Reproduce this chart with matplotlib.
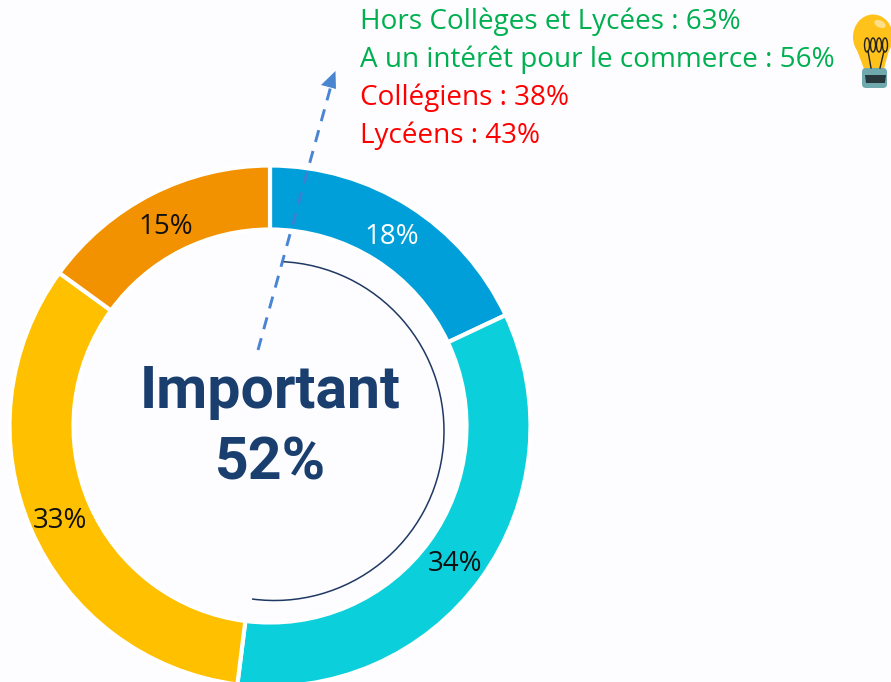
import matplotlib
matplotlib.use("Agg")
import matplotlib.pyplot as plt
from matplotlib.patches import Arc, Ellipse, Polygon, FancyBboxPatch

# data
segment_labels = ["18%", "34%", "33%", "15%"]
segment_values = [18, 34, 33, 15]
segment_colors = ["#009FD9", "#0BD0DC", "#FFC000", "#F39200"]
label_colors = ["white", "#111111", "#111111", "#111111"]
label_positions = [(392, 237), (455, 564), (60, 521), (166, 227)]
center_title = "Important"
center_value = 52
note_lines = ["Hors Collèges et Lycées : 63%", "A un intérêt pour le commerce : 56%",
              "Collégiens : 38%", "Lycéens : 43%"]
note_colors = ["#00B050", "#00B050", "#FF0000", "#FF0000"]
note_y = [22, 60, 98, 136]

W, H = 891, 682
BG = "#FDFDFF"
fig = plt.figure(figsize=(W / 100, H / 100), dpi=100, facecolor=BG)
ax = fig.add_axes([0, 0, 1, 1], facecolor=BG)


def Y(y):
    return H - y


ax.pie(segment_values, colors=segment_colors, startangle=90, counterclock=False,
       radius=260.5, center=(270, Y(426)), frame=True,
       wedgeprops=dict(width=64, edgecolor="white", linewidth=3))
ax.set_xlim(0, W)
ax.set_ylim(0, H)
ax.set_aspect("equal")
ax.axis("off")

# arc showing the "Important" share
start = 90 - 2.5
end = start - center_value * 3.56
ax.add_patch(Arc((274.5, Y(431)), 339, 339, theta1=end, theta2=start,
                 color="#1F3864", lw=1.1, zorder=4))

# dashed arrow
x0, y0, x1, y1 = 258, 350, 331.5, 84
ax.plot([x0, x1], [Y(y0), Y(y1)], color="#3F7FD0", lw=2.1, alpha=0.95,
        dashes=(4.2, 3.2), zorder=5, solid_capstyle="butt", dash_capstyle="butt")
ax.add_patch(Polygon([(335.5, Y(71)), (321, Y(85)), (336, Y(89))],
                     closed=True, fc="#4A86D0", ec="none", zorder=5))

# centre text
ax.text(270, Y(392), center_title, ha="center", va="center", fontsize=42.5,
        fontweight="bold", family="Roboto", color="#1A3F6F", zorder=6)
ax.text(270, Y(463), f"{center_value}%", ha="center", va="center", fontsize=42.5,
        fontweight="bold", family="Roboto", color="#1A3F6F", zorder=6)

for lab, col, (px, py) in zip(segment_labels, label_colors, label_positions):
    ax.text(px, Y(py), lab, ha="center", va="center", fontsize=20,
            family="Open Sans", color=col, zorder=6)

for line, col, py in zip(note_lines, note_colors, note_y):
    ax.text(359.5, Y(py), line, ha="left", va="center", fontsize=20.05,
            family="Open Sans", color=col, zorder=6)

# light bulb
ax.add_patch(Ellipse((873, Y(37)), 40, 45, fc="#FFC21A", ec="none", zorder=6))
ax.add_patch(Polygon([(857, Y(50)), (889, Y(50)), (884, Y(69)), (864, Y(69))],
                     fc="#FFC21A", ec="none", zorder=6))
ax.add_patch(Ellipse((880, Y(24)), 12, 7, angle=-25, fc="#FFE08A", ec="none", zorder=6))
ax.add_patch(FancyBboxPatch((862, Y(88)), 25, 20, boxstyle="round,pad=0,rounding_size=4",
                            fc="#6FA9AE", ec="none", zorder=6))
ax.add_patch(Polygon([(865, Y(75)), (886, Y(75)), (885, Y(83)), (866, Y(83))],
                     fc="#26383C", ec="none", zorder=7))
for xx in (867, 873, 879, 885):
    ax.add_patch(Ellipse((xx, Y(45)), 5, 14, fc="none", ec="#222222", lw=1.0, zorder=7))
ax.plot([868, 871], [Y(51), Y(68)], color="#222222", lw=1.0, zorder=7)
ax.plot([884, 880], [Y(51), Y(68)], color="#222222", lw=1.0, zorder=7)

fig.savefig("out.png", dpi=100, facecolor=BG)
